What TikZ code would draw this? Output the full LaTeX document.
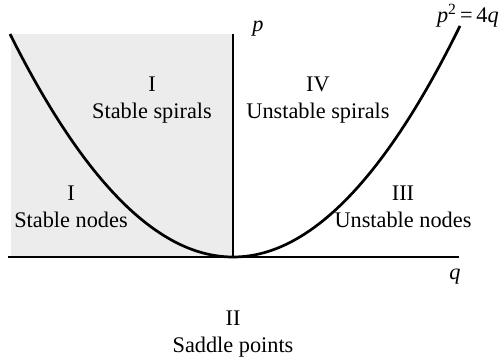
\documentclass[tikz,border=0pt]{standalone}
\usepackage{fontspec}
\setmainfont{Liberation Serif}
\begin{document}
\begin{tikzpicture}[x=1pt,y=-1pt,
  lbl/.style={align=center,font=\fontsize{22.3}{27.5}\selectfont,inner sep=0pt},
  axis/.style={line width=2.7pt},
  curve/.style={line width=2.7pt}]
\useasboundingbox (0,0) rectangle (500,360);
\fill[gray!15] (11,34) rectangle (233,257);
\coordinate (O) at (233,257);
\coordinate (ptop) at (233,34);
\coordinate (qleft) at (8,257);
\coordinate (qright) at (459,257);
\draw[axis] (ptop) -- (O);
\draw[axis] (qleft) -- (qright);
\draw[curve] plot[domain=-223:227,samples=120] ({233+\x},{257-\x*(\x/223)});
\node[lbl] (pl) at (258,29) {\textit{p}};
\node[lbl] (ql) at (455,277) {\textit{q}};
\node[lbl,anchor=base east] (eq) at (499,22) {\textit{p}\textsuperscript{2}\,=\,4\textit{q}};
\node[lbl] (r1) at (152,100) {I\\Stable spirals};
\node[lbl] (r4) at (318,100) {IV\\Unstable spirals};
\node[lbl] (r1b) at (71,207) {I\\Stable nodes};
\node[lbl] (r3) at (403,207) {III\\Unstable nodes};
\node[lbl] (r2) at (233,334) {II\\Saddle points};
\end{tikzpicture}
\end{document}
